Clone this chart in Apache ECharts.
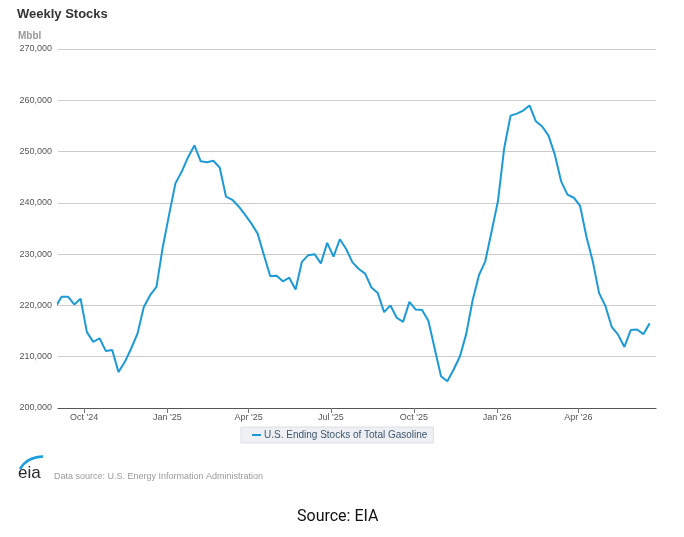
<!DOCTYPE html>
<html>
<head>
<meta charset="utf-8">
<script src="https://cdn.jsdelivr.net/npm/echarts@6/dist/echarts.min.js"></script>
<style>
html,body{margin:0;padding:0;background:#fff;}
#chart{width:684px;height:537px;}
</style>
</head>
<body>
<div id="chart"></div>
<script>
// Weekly dates (Fridays)
const weekDates = [
  '2024-08-30','2024-09-06','2024-09-13','2024-09-20','2024-09-27',
  '2024-10-04','2024-10-11','2024-10-18','2024-10-25',
  '2024-11-01','2024-11-08','2024-11-15','2024-11-22','2024-11-29',
  '2024-12-06','2024-12-13','2024-12-20','2024-12-27',
  '2025-01-03','2025-01-10','2025-01-17','2025-01-24','2025-01-31',
  '2025-02-07','2025-02-14','2025-02-21','2025-02-28',
  '2025-03-07','2025-03-14','2025-03-21','2025-03-28',
  '2025-04-04','2025-04-11','2025-04-18','2025-04-25',
  '2025-05-02','2025-05-09','2025-05-16','2025-05-23','2025-05-30',
  '2025-06-06','2025-06-13','2025-06-20','2025-06-27',
  '2025-07-04','2025-07-11','2025-07-18','2025-07-25',
  '2025-08-01','2025-08-08','2025-08-15','2025-08-22','2025-08-29',
  '2025-09-05','2025-09-12','2025-09-19','2025-09-26',
  '2025-10-03','2025-10-10','2025-10-17','2025-10-24','2025-10-31',
  '2025-11-07','2025-11-14','2025-11-21','2025-11-28',
  '2025-12-05','2025-12-12','2025-12-19','2025-12-26',
  '2026-01-02','2026-01-09','2026-01-16','2026-01-23','2026-01-30',
  '2026-02-06','2026-02-13','2026-02-20','2026-02-27',
  '2026-03-06','2026-03-13','2026-03-20','2026-03-27',
  '2026-04-03','2026-04-10','2026-04-17','2026-04-24',
  '2026-05-01','2026-05-08','2026-05-15','2026-05-22','2026-05-29',
  '2026-06-05','2026-06-12','2026-06-19'
];
// U.S. Ending Stocks of Total Gasoline (Mbbl)
const gasolineStocks = [
  219600,221700,221700,220200,221300,
  214800,212900,213600,211100,
  211300,207000,209000,211600,214500,
  219700,222000,223600,231400,
  237700,243800,246100,248900,251200,
  248100,247900,248200,246900,
  241200,240600,239300,237700,
  236000,234000,229800,225700,
  225800,224700,225400,223100,228500,
  229800,230000,228200,232200,
  229500,232900,231000,228400,
  227100,226200,223500,222400,218700,
  220000,217600,216800,220700,
  219200,219100,217000,211600,206200,
  205200,207500,210100,214500,
  221000,225900,228600,234400,
  240300,250700,257000,257400,258000,
  259000,255900,254900,253100,
  249400,244200,241600,241000,
  239400,233400,228600,222400,
  219900,215800,214300,211900,215200,
  215300,214400,216500
];
const seriesName = 'U.S. Ending Stocks of Total Gasoline';
const yTicks = [200000,210000,220000,230000,240000,250000,260000,270000];
const xRange = ['2024-09-02','2026-06-26'];
const quarterMonths = ['Jan','Apr','Jul','Oct'];

const FONT = '"Liberation Sans", Arial, sans-serif';
const chart = echarts.init(document.getElementById('chart'), null, {renderer:'canvas'});
const DAY = 86400000;
const option = {
  animation:false,
  backgroundColor:'#ffffff',
  textStyle:{fontFamily:FONT},
  title:{
    text:'Weekly Stocks', left:17, top:8, padding:0,
    textStyle:{fontSize:13, fontWeight:'bold', color:'#333333', fontFamily:FONT}
  },
  grid:{left:58, right:28, top:49, bottom:129},
  legend:{
    data:[seriesName], left:241, top:427,
    backgroundColor:'#eef0f3', borderColor:'#dcdfe3', borderWidth:1,
    padding:[3,6,3,11], icon:'rect', itemWidth:9, itemHeight:2, itemGap:3,
    textStyle:{fontSize:10, color:'#3e576f', fontFamily:FONT, padding:[1,0,0,-2]}
  },
  xAxis:{
    type:'time',
    min:xRange[0], max:xRange[1],
    minInterval:89*DAY, maxInterval:92*DAY,
    splitLine:{show:false},
    axisLine:{lineStyle:{color:'#555555', width:1}},
    axisTick:{show:true, length:5, lineStyle:{color:'#777777'}},
    axisLabel:{
      color:'#555555', fontSize:9, margin:5,
      showMinLabel:false, showMaxLabel:false,
      formatter:function(v){
        const d = new Date(v);
        const m = d.getMonth();
        if (m % 3 !== 0) return '';
        return quarterMonths[m/3] + " '" + String(d.getFullYear()).slice(2);
      }
    }
  },
  yAxis:{
    type:'value', min:yTicks[0], max:yTicks[yTicks.length-1], interval:10000,
    axisLine:{show:false}, axisTick:{show:false},
    splitLine:{lineStyle:{color:'#cccccc', width:1}},
    axisLabel:{
      color:'#555555', fontSize:9, margin:6,
      formatter:function(v){ return v.toLocaleString('en-US'); }
    }
  },
  graphic:[
    {type:'text', left:18, top:31, style:{text:'Mbbl', fontSize:10, fontWeight:'bold', fill:'#999999', fontFamily:FONT}},
    {type:'text', left:18, top:465, style:{text:'eia', fontSize:17, fill:'#2a2a2a', fontFamily:FONT}},
    {type:'bezierCurve', shape:{x1:20, y1:469, cpx1:27, cpy1:457, x2:43, y2:456.5}, style:{stroke:'#1a9fde', lineWidth:2.5, fill:null}},
    {type:'text', left:54, top:472, style:{text:'Data source: U.S. Energy Information Administration', fontSize:9, fill:'#9a9a9a', fontFamily:FONT}},
    {type:'text', left:297, top:509, style:{text:'Source: EIA', fontSize:16, fill:'#111111', fontFamily:'Roboto, "Liberation Sans", Arial, sans-serif'}}
  ],
  series:[{
    name:seriesName, type:'line', showSymbol:false, clip:true,
    data:weekDates.map((d,i)=>[d, gasolineStocks[i]]),
    lineStyle:{color:'#1d9ad6', width:2},
    itemStyle:{color:'#1d9ad6'}
  }]
};
chart.setOption(option);
</script>
</body>
</html>
